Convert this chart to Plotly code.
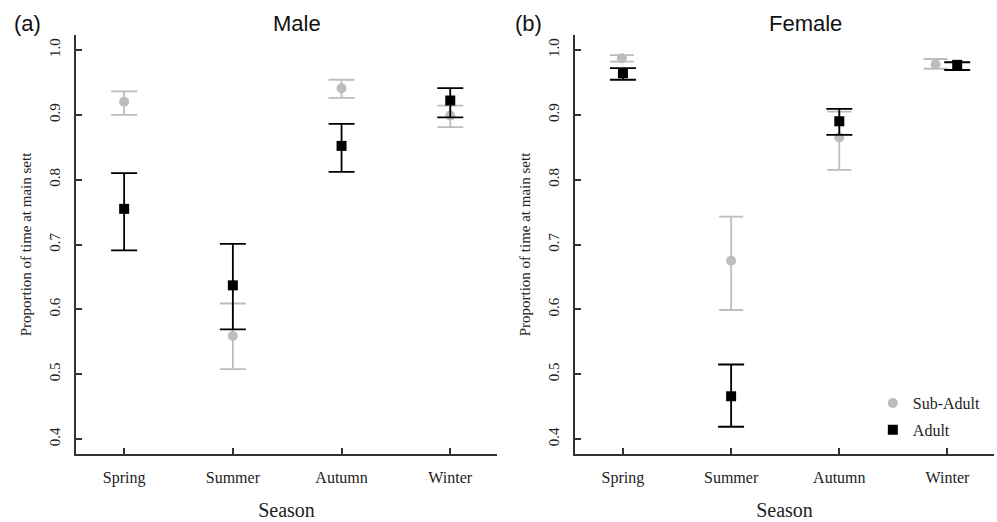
import plotly.graph_objects as go

# ---------------- data ----------------
seasons = ["Spring", "Summer", "Autumn", "Winter"]
season_pos = [1, 2, 3, 4]
y_ticks = [0.4, 0.5, 0.6, 0.7, 0.8, 0.9, 1.0]
y_ticktext = ["0.4", "0.5", "0.6", "0.7", "0.8", "0.9", "1.0"]

male_sub = [0.920, 0.559, 0.941, 0.899]
male_sub_hi = [0.936, 0.609, 0.954, 0.914]
male_sub_lo = [0.900, 0.508, 0.926, 0.881]
male_ad = [0.755, 0.637, 0.852, 0.922]
male_ad_hi = [0.810, 0.701, 0.886, 0.941]
male_ad_lo = [0.691, 0.569, 0.812, 0.896]

female_sub = [0.987, 0.675, 0.865, 0.978]
female_sub_hi = [0.992, 0.743, 0.905, 0.986]
female_sub_lo = [0.982, 0.599, 0.815, 0.971]
female_ad = [0.964, 0.466, 0.890, 0.977]
female_ad_hi = [0.972, 0.515, 0.909, 0.981]
female_ad_lo = [0.954, 0.419, 0.869, 0.969]

# horizontal dodge (in category units)
male_sub_dx = [0, 0, 0, 0]
male_ad_dx = [0, 0, 0, 0]
female_sub_dx = [-0.01, 0, 0, -0.11]
female_ad_dx = [0, 0, 0, 0.09]

GRAY = "#bdbdbd"
BLACK = "#000000"
AXIS = "#333333"
SERIF = "Liberation Serif, Times New Roman, serif"
SANS = "Liberation Sans, Arial, sans-serif"


def trace(vals, hi, lo, dx, color, symbol, name, xa, ya, show, cap):
    return go.Scatter(
        x=[p + d for p, d in zip(season_pos, dx)],
        y=vals,
        mode="markers",
        name=name,
        legendgroup=name,
        showlegend=show,
        marker=dict(symbol=symbol, size=10, color=color, line=dict(width=0)),
        error_y=dict(
            type="data",
            symmetric=False,
            array=[h - v for h, v in zip(hi, vals)],
            arrayminus=[v - l for v, l in zip(vals, lo)],
            color=color,
            thickness=1.8,
            width=cap,
        ),
        xaxis=xa,
        yaxis=ya,
    )


fig = go.Figure()
fig.add_trace(trace(male_sub, male_sub_hi, male_sub_lo, male_sub_dx, GRAY, "circle", "Sub-Adult", "x", "y", False, 13))
fig.add_trace(trace(male_ad, male_ad_hi, male_ad_lo, male_ad_dx, BLACK, "square", "Adult", "x", "y", False, 13))
fig.add_trace(trace(female_sub, female_sub_hi, female_sub_lo, female_sub_dx, GRAY, "circle", "Sub-Adult", "x2", "y2", True, 12))
fig.add_trace(trace(female_ad, female_ad_hi, female_ad_lo, female_ad_dx, BLACK, "square", "Adult", "x2", "y2", True, 13))

xcommon = dict(
    range=[0.557, 4.43],
    tickmode="array",
    tickvals=season_pos,
    ticktext=seasons,
    ticks="inside",
    ticklen=6,
    tickwidth=1.5,
    tickcolor=AXIS,
    showline=True,
    linecolor=AXIS,
    linewidth=1.5,
    showgrid=False,
    zeroline=False,
    tickfont=dict(family=SERIF, size=16, color="#222"),
    title=dict(text="Season", font=dict(family=SERIF, size=20, color="#222"), standoff=17),
    ticklabelstandoff=8,
    automargin=False,
    fixedrange=True,
)
ycommon = dict(
    range=[0.377, 1.023],
    tickmode="array",
    tickvals=y_ticks,
    ticktext=y_ticktext,
    tickangle=-90,
    ticks="inside",
    ticklen=6,
    tickwidth=1.5,
    tickcolor=AXIS,
    showline=True,
    linecolor=AXIS,
    linewidth=1.5,
    showgrid=False,
    zeroline=False,
    tickfont=dict(family=SERIF, size=15, color="#222"),
    title=dict(text="Proportion of time at main sett", font=dict(family=SERIF, size=15, color="#222"), standoff=12),
    ticklabelstandoff=8,
    automargin=False,
    fixedrange=True,
)

W, H = 997, 522
L, R, T, B = 76, 3, 35, 68
pw, ph = W - L - R, H - T - B


def px_x(x):
    return (x - L) / pw


def px_y(y):
    return 1 - (y - T) / ph


ann_font = dict(family=SANS, size=22, color="#111")
fig.update_layout(
    width=W,
    height=H,
    margin=dict(l=L, r=R, t=T, b=B),
    paper_bgcolor="white",
    plot_bgcolor="white",
    xaxis=dict(domain=[0, 0.4586], anchor="y", **xcommon),
    yaxis=dict(domain=[0, 1], anchor="x", **ycommon),
    xaxis2=dict(domain=[0.5436, 1], anchor="y2", **xcommon),
    yaxis2=dict(domain=[0, 1], anchor="x2", **ycommon),
    legend=dict(
        x=0.868, y=0.162, xanchor="left", yanchor="top",
        font=dict(family=SERIF, size=16, color="#222"),
        bgcolor="rgba(0,0,0,0)",
        tracegroupgap=3,
    ),
    annotations=[
        dict(text="Male", x=px_x(297), y=px_y(23)),
        dict(text="Female", x=px_x(805), y=px_y(23)),
        dict(text="(a)", x=px_x(27), y=px_y(23)),
        dict(text="(b)", x=px_x(528), y=px_y(23)),
    ],
    showlegend=True,
)
fig.update_annotations(xref="paper", yref="paper", showarrow=False,
                       xanchor="center", yanchor="middle", font=ann_font)

fig.write_html("out.html", config={"displayModeBar": False},
               post_script="document.body.style.margin='0';")
